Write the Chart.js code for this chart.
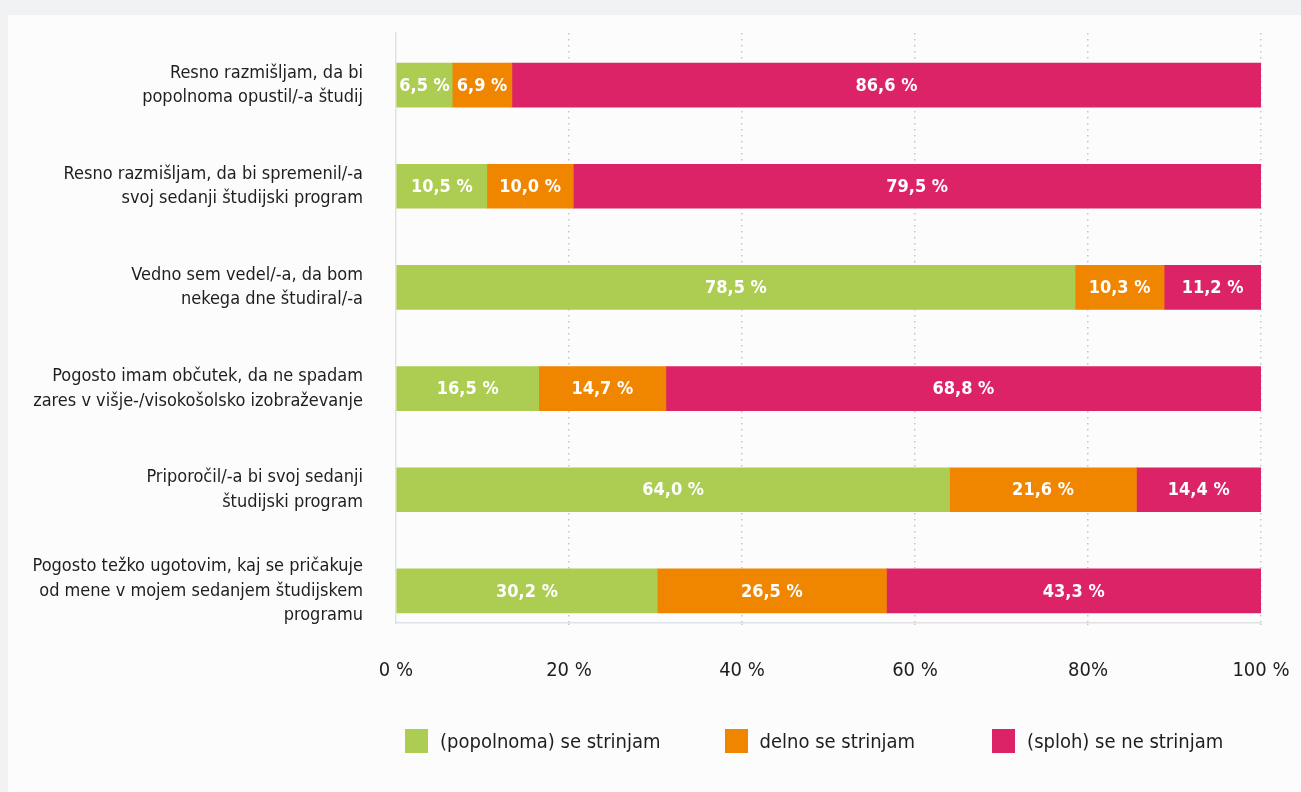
<!DOCTYPE html>
<html lang="sl">
<head>
<meta charset="utf-8">
<title>Študij – strinjanje s trditvami</title>
<script src="https://cdn.jsdelivr.net/npm/chart.js@4.4.1/dist/chart.umd.min.js"></script>
<style>
  html, body { margin: 0; padding: 0; background: #f1f2f4; }
  .panel { position: absolute; left: 8px; top: 15px; right: 0; bottom: 0; background: #fcfcfc; }
  .panel canvas { display: block; }
  .legend { position: absolute; left: 397px; top: 714px; display: flex; font: 20px 'DejaVu Sans Condensed', sans-serif; color: #1e1e1e; }
  .legend-item { display: flex; align-items: center; margin-right: 64px; }
  .legend-item:nth-child(2) { margin-right: 77px; }
  .legend-box { width: 23px; height: 24px; margin-right: 12px; }
</style>
</head>
<body>
<div class="panel">
  <canvas id="chart"></canvas>
  <div class="legend" id="legend"></div>
</div>
<script>
const CATEGORIES = [
  ["Resno razmišljam, da bi", "popolnoma opustil/-a študij"],
  ["Resno razmišljam, da bi spremenil/-a", "svoj sedanji študijski program"],
  ["Vedno sem vedel/-a, da bom", "nekega dne študiral/-a"],
  ["Pogosto imam občutek, da ne spadam", "zares v višje-/visokošolsko izobraževanje"],
  ["Priporočil/-a bi svoj sedanji", "študijski program"],
  ["Pogosto težko ugotovim, kaj se pričakuje", "od mene v mojem sedanjem študijskem", "programu"],
];
const SERIES_NAMES = ["(popolnoma) se strinjam", "delno se strinjam", "(sploh) se ne strinjam"];
const AGREE = [6.5, 10.5, 78.5, 16.5, 64.0, 30.2];
const PARTLY = [6.9, 10.0, 10.3, 14.7, 21.6, 26.5];
const DISAGREE = [86.6, 79.5, 11.2, 68.8, 14.4, 43.3];
const X_TICKS = ["0 %", "20 %", "40 %", "60 %", "80%", "100 %"];
const COLORS = ["#adcd52", "#f08500", "#dc2367"];

const FONT = "'DejaVu Sans Condensed', 'Noto Sans', sans-serif";
const toPoints = (values) => values.map((value, index) => ({ x: value, y: index }));
const formatValue = (value) => `${value.toFixed(1).replace(".", ",")} %`;

// white value labels centred in every segment
const segmentLabels = {
  id: "segmentLabels",
  afterDatasetsDraw(chart) {
    const { ctx } = chart;
    ctx.save();
    ctx.fillStyle = "#ffffff";
    ctx.font = `bold 18px ${FONT}`;
    ctx.textAlign = "center";
    ctx.textBaseline = "middle";
    chart.data.datasets.forEach((dataset, i) => {
      chart.getDatasetMeta(i).data.forEach((bar, j) => {
        const { x, base, y } = bar.getProps(["x", "base", "y"], true);
        ctx.fillText(formatValue(dataset.data[j].x), (x + base) / 2, y + 1);
      });
    });
    ctx.restore();
  },
};

const chart = new Chart(document.getElementById("chart"), {
  type: "bar",
  data: {
    datasets: [AGREE, PARTLY, DISAGREE].map((values, i) => ({
      label: SERIES_NAMES[i],
      data: toPoints(values),
      backgroundColor: COLORS[i],
      borderWidth: 0,
      barThickness: 44,
    })),
  },
  options: {
    indexAxis: "y",
    responsive: true,
    maintainAspectRatio: false,
    animation: false,
    layout: { padding: { top: 18, right: 40, left: 0, bottom: 79 } },
    plugins: {
      tooltip: { enabled: false },
      legend: { display: false },
    },
    scales: {
      x: {
        stacked: true,
        min: 0,
        max: 100,
        grid: {
          color: (ctx) => (ctx.tick && ctx.tick.value === 0 ? "rgba(0,0,0,0)" : "#c4c6c9"),
          lineWidth: 1.5,
          tickLength: 6,
          tickBorderDash: [1.5, 4.5],
        },
        border: { display: true, color: "#dfe2e5", width: 1.5, dash: [1.5, 4.5] },
        ticks: {
          stepSize: 20,
          padding: 30,
          color: "#1e1e1e",
          font: { family: FONT, size: 20 },
          callback: (value) => X_TICKS[value / 20],
        },
        afterFit(scale) {
          scale.paddingLeft = 0;
          scale.paddingRight = 0;
        },
      },
      y: {
        type: "linear",
        stacked: true,
        reverse: true,
        offset: false,
        min: -0.515,
        max: 5.317,
        grid: { display: false },
        border: { display: true, color: "#dfe2e5", width: 1.5 },
        ticks: {
          stepSize: 1,
          includeBounds: false,
          autoSkip: false,
          padding: 25,
          color: "#1e1e1e",
          font: { family: FONT, size: 18, lineHeight: 1.36 },
          callback: (value) => (Number.isInteger(value) ? CATEGORIES[value] : ""),
        },
        afterFit(scale) {
          scale.width = 388;
          scale.paddingTop = 0;
          scale.paddingBottom = 0;
        },
      },
    },
  },
  plugins: [segmentLabels],
});

document.getElementById("legend").innerHTML = chart.data.datasets.map((dataset) =>
  `<div class="legend-item"><span class="legend-box" style="background:${dataset.backgroundColor}"></span>${dataset.label}</div>`
).join("");
</script>
</body>
</html>
